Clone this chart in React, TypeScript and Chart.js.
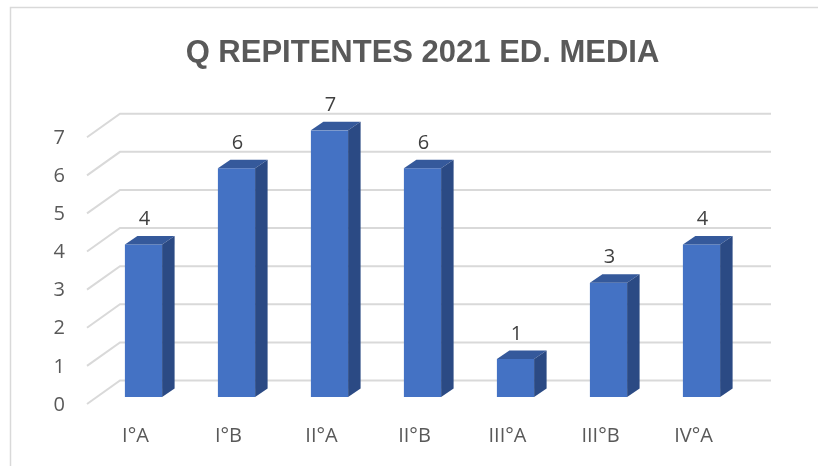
import React, { useEffect, useRef } from "react";
import { Chart, registerables } from "chart.js";

Chart.register(...registerables);

const categories = ["I°A", "I°B", "II°A", "II°B", "III°A", "III°B", "IV°A"];
const repitentes = [4, 6, 7, 6, 1, 3, 4];
const chartTitle = "Q REPITENTES 2021 ED. MEDIA";
const yMin = 0;
const yMax = 7;

const FRONT = "#4472C4";
const TOP = "#35599B";
const SIDE = "#2B4A84";
const GRID = "#D9D9D9";
const TEXT = "#595959";

const BACK_DX = 23;
const BACK_DY = -16.5;
const FRONT_DX = -10;
const FRONT_DY = 7;
const BAR_DX = 12.5;
const BAR_DY = -8.5;

const threeD = {
  id: "threeD",
  beforeDraw(chart: any) {
    const ctx = chart.ctx;
    ctx.save();
    ctx.fillStyle = "#ffffff";
    ctx.fillRect(0, 0, chart.width, chart.height);
    ctx.strokeStyle = GRID;
    ctx.lineWidth = 1.5;
    ctx.beginPath();
    ctx.moveTo(10.5, chart.height + 5);
    ctx.lineTo(10.5, 7.5);
    ctx.lineTo(chart.width + 5, 7.5);
    ctx.stroke();
    ctx.restore();
  },
  beforeDatasetsDraw(chart: any) {
    const ctx = chart.ctx;
    const y = chart.scales.y;
    const { left, right } = chart.chartArea;
    ctx.save();
    ctx.strokeStyle = GRID;
    ctx.lineWidth = 2;
    for (let v = yMin; v <= yMax; v++) {
      const py = y.getPixelForValue(v);
      ctx.beginPath();
      ctx.moveTo(left + FRONT_DX, py + FRONT_DY);
      ctx.lineTo(left + BACK_DX, py + BACK_DY);
      ctx.lineTo(right + BACK_DX, py + BACK_DY);
      ctx.stroke();
    }
    ctx.restore();
  },
  afterDatasetsDraw(chart: any) {
    const ctx = chart.ctx;
    const meta = chart.getDatasetMeta(0);
    ctx.save();
    meta.data.forEach((bar: any, i: number) => {
      const { x, y, base, width } = bar.getProps(["x", "y", "base", "width"], true);
      const x1 = x - width / 2;
      const x2 = x + width / 2;
      ctx.fillStyle = TOP;
      ctx.beginPath();
      ctx.moveTo(x1, y);
      ctx.lineTo(x2, y);
      ctx.lineTo(x2 + BAR_DX, y + BAR_DY);
      ctx.lineTo(x1 + BAR_DX, y + BAR_DY);
      ctx.closePath();
      ctx.fill();
      ctx.fillStyle = SIDE;
      ctx.beginPath();
      ctx.moveTo(x2, y);
      ctx.lineTo(x2 + BAR_DX, y + BAR_DY);
      ctx.lineTo(x2 + BAR_DX, base + BAR_DY);
      ctx.lineTo(x2, base);
      ctx.closePath();
      ctx.fill();
      ctx.fillStyle = "#404040";
      ctx.font = "20px 'Open Sans'";
      ctx.textAlign = "center";
      ctx.textBaseline = "middle";
      ctx.fillText(String(repitentes[i]), x + 1, y - 25);
    });
    ctx.restore();
  },
};

export default function App() {
  const ref = useRef<HTMLCanvasElement | null>(null);
  useEffect(() => {
    document.body.style.margin = "0";
    const chart = new Chart(ref.current!, {
      type: "bar",
      data: {
        labels: categories,
        datasets: [
          {
            data: repitentes,
            backgroundColor: FRONT,
            borderWidth: 0,
            barPercentage: 0.4,
            categoryPercentage: 1,
          },
        ],
      },
      options: {
        responsive: false,
        animation: false,
        layout: { padding: { top: 35, left: 0, right: 70, bottom: 0 } },
        plugins: {
          legend: { display: false },
          tooltip: { enabled: false },
          title: {
            display: true,
            text: chartTitle,
            fullSize: false,
            color: TEXT,
            font: { family: "'Liberation Sans'", size: 31, weight: "bold" },
            padding: { top: 0, bottom: 58 },
          },
        },
        scales: {
          x: {
            grid: { display: false, drawTicks: false },
            border: { display: false },
            ticks: {
              color: TEXT,
              font: { family: "'Open Sans'", size: 20 },
              padding: 27,
              labelOffset: -8,
              maxRotation: 0,
            },
            afterFit(scale: any) {
              scale.height = 69;
            },
          },
          y: {
            min: yMin,
            max: yMax,
            grid: { display: false, drawTicks: false },
            border: { display: false },
            ticks: {
              stepSize: 1,
              color: TEXT,
              font: { family: "'Open Sans'", size: 20 },
              padding: 32,
              labelOffset: 8,
            },
            afterFit(scale: any) {
              scale.width = 97;
            },
          },
        },
      },
      plugins: [threeD],
    });
    return () => chart.destroy();
  }, []);
  return <canvas ref={ref} width={818} height={466} style={{ display: "block" }} />;
}
